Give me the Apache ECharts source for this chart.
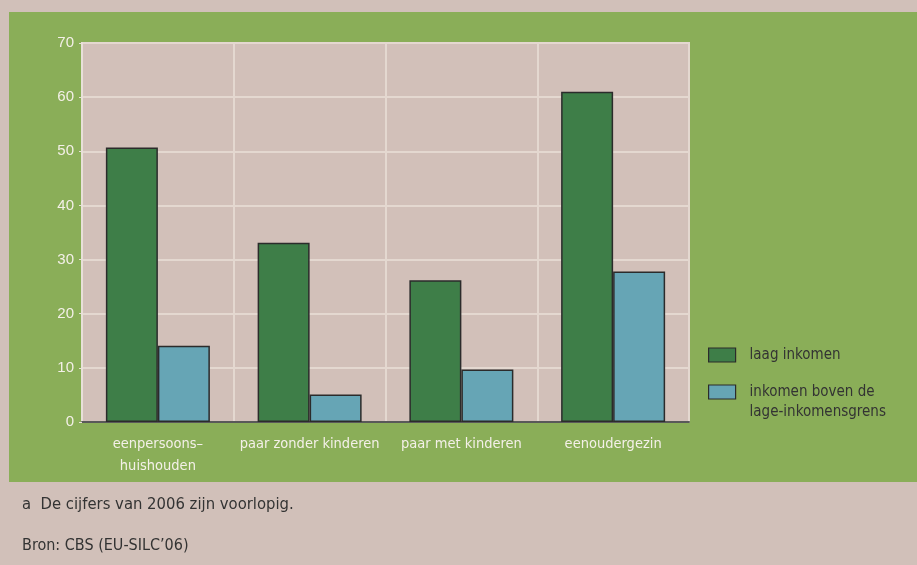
<!DOCTYPE html>
<html>
<head>
<meta charset="utf-8">
<script src="https://cdn.jsdelivr.net/npm/echarts@6/dist/echarts.min.js"></script>
<style>
html,body{margin:0;padding:0;background:#d1c0b9;}
#c{width:917px;height:565px;}
</style>
</head>
<body>
<div id="c"></div>
<script>
var categories = ['eenpersoons–\nhuishouden', 'paar zonder kinderen', 'paar met kinderen', 'eenoudergezin'];
var seriesNames = ['laag inkomen', 'inkomen boven de lage-inkomensgrens'];
var laagInkomen = [50.7, 33.1, 26.2, 61.0];
var bovenGrens = [14.1, 5.1, 9.7, 27.8];
var yTicks = { min: 0, max: 70, interval: 10 };
var footnote = 'a  De cijfers van 2006 zijn voorlopig.';
var source = 'Bron: CBS (EU-SILC’06)';

var FONT = '"Liberation Sans Narrow", "DejaVu Sans Condensed", "Liberation Sans", sans-serif';
var chart = echarts.init(document.getElementById('c'), null, { renderer: 'canvas' });

var legendBase = {
  orient: 'vertical',
  left: 708,
  itemWidth: 27,
  itemHeight: 14,
  itemGap: 0,
  itemStyle: { borderColor: '#2b2b2b', borderWidth: 1.2 },
  padding: 0,
  textStyle: { fontFamily: FONT, fontSize: 15, color: '#333333', lineHeight: 20, padding: [0, 0, 0, 9] },
  icon: 'rect'
};

chart.setOption({
  backgroundColor: '#d1c0b9',
  animation: false,
  graphic: [
    { type: 'rect', z: -10, silent: true, shape: { x: 9, y: 12, width: 908, height: 470 }, style: { fill: '#8aae58' } },
    { type: 'text', left: 22, top: 496, style: { text: footnote, font: '16.5px ' + FONT, fill: '#333333' } },
    { type: 'text', left: 22, top: 538, style: { text: source, font: '16px ' + FONT, fill: '#333333' } }
  ],
  legend: [
    Object.assign({}, legendBase, {
      top: 345,
      data: [seriesNames[0]]
    }),
    Object.assign({}, legendBase, {
      top: 362,
      data: [seriesNames[1]],
      formatter: function () { return ' \ninkomen boven de\nlage-inkomensgrens'; }
    })
  ],
  grid: { left: 82, top: 43, right: 228, bottom: 143, containLabel: false, show: true, backgroundColor: '#d2c0b9', borderColor: '#e4d8d0', borderWidth: 2 },
  xAxis: {
    type: 'category',
    data: categories,
    boundaryGap: true,
    axisLine: { show: true, lineStyle: { color: '#595959', width: 2 } },
    axisTick: { show: false },
    splitLine: { show: true, lineStyle: { color: '#e4d8d0', width: 2 } },
    axisLabel: { color: '#f4f0e8', fontFamily: FONT, fontSize: 14.5, lineHeight: 22, margin: 11, interval: 0 }
  },
  yAxis: {
    type: 'value',
    min: yTicks.min, max: yTicks.max, interval: yTicks.interval,
    axisLine: { show: true, lineStyle: { color: '#e8e0d8', width: 2 } },
    axisTick: { show: true, length: 3, lineStyle: { color: '#e8e0d8' } },
    splitLine: { show: true, lineStyle: { color: '#e4d8d0', width: 2 } },
    axisLabel: { color: '#f4f0e8', fontFamily: '"Liberation Sans", Arial, sans-serif', fontSize: 15, margin: 8 }
  },
  series: [
    {
      name: seriesNames[0], type: 'bar', data: laagInkomen,
      barWidth: 52, barGap: '0%',
      itemStyle: { color: '#3e7e48', borderColor: '#2b2b2b', borderWidth: 1.5 }
    },
    {
      name: seriesNames[1], type: 'bar', data: bovenGrens,
      barWidth: 52, barGap: '0%',
      itemStyle: { color: '#66a5b5', borderColor: '#2b2b2b', borderWidth: 1.5 }
    }
  ]
});
</script>
</body>
</html>
